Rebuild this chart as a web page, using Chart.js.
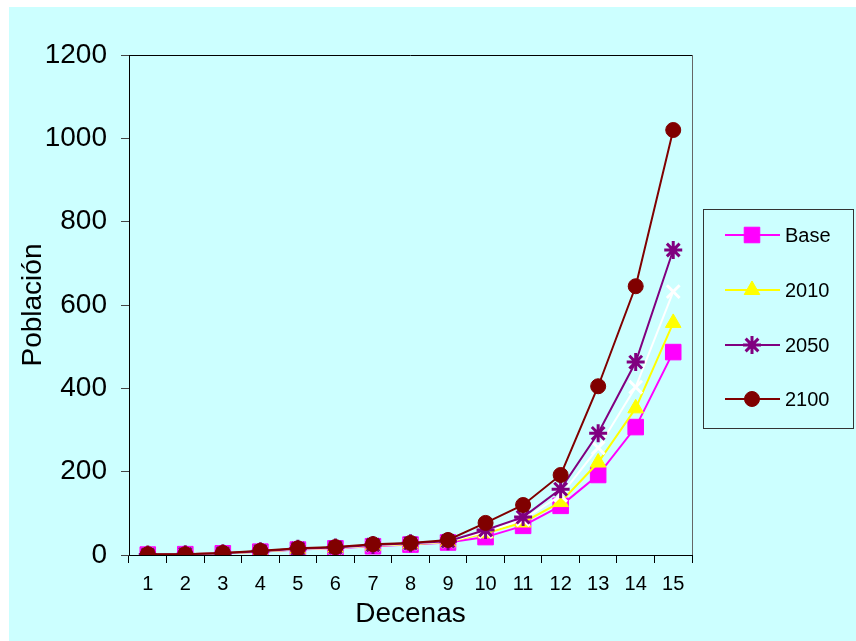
<!DOCTYPE html>
<html>
<head>
<meta charset="utf-8">
<script src="https://cdn.jsdelivr.net/npm/chart.js@4.4.1/dist/chart.umd.min.js"></script>
<style>
  html, body { margin: 0; padding: 0; background: #ffffff; }
  #wrap { width: 856px; height: 641px; position: relative; }
</style>
</head>
<body>
<div id="wrap"><canvas id="c" width="856" height="641"></canvas></div>
<script>
const categories = ['1','2','3','4','5','6','7','8','9','10','11','12','13','14','15'];
const yTicks = [0, 200, 400, 600, 800, 1000, 1200];
const seriesBase = [1, 2, 4, 8, 13, 16, 21, 25, 30, 43, 70, 118, 192, 307, 487];
const series2010 = [1, 2, 4, 8, 14, 17, 22, 26, 31, 52, 78, 127, 222, 352, 557];
const series2030 = [1, 2, 4, 9, 14, 17, 23, 27, 32, 56, 85, 143, 257, 403, 632];
const series2050 = [1, 2, 4, 9, 15, 18, 24, 28, 33, 60, 91, 158, 292, 463, 732];
const series2100 = [2, 2, 5, 10, 16, 19, 26, 29, 36, 77, 120, 192, 405, 645, 1020];

const FONT = "'Liberation Sans', Arial, sans-serif";

const datasets = [
  { label: 'Base', data: seriesBase, borderColor: '#FF00FF', backgroundColor: '#FF00FF',
    pointStyle: 'rect', pointRadius: 11, pointBorderWidth: 1, order: 5, inLegend: true },
  { label: '2010', data: series2010, borderColor: '#FFFF00', backgroundColor: '#FFFF00',
    pointStyle: 'triangle', pointRadius: 9, pointBorderWidth: 1, order: 4, inLegend: true },
  { label: '2030', data: series2030, borderColor: '#FFFFFF', backgroundColor: '#FFFFFF',
    pointStyle: 'crossRot', pointRadius: 9, pointBorderWidth: 3, order: 3, inLegend: false },
  { label: '2050', data: series2050, borderColor: '#800080', backgroundColor: '#800080',
    pointStyle: 'star', pointRadius: 9, pointBorderWidth: 3, order: 2, inLegend: true },
  { label: '2100', data: series2100, borderColor: '#800000', backgroundColor: '#800000',
    pointStyle: 'circle', pointRadius: 7.5, pointBorderWidth: 1, order: 1, inLegend: true }
].map(d => Object.assign({ borderWidth: 2, tension: 0, fill: false,
  pointBackgroundColor: d.backgroundColor, pointBorderColor: d.borderColor }, d));

const bgPlugin = {
  id: 'bg',
  beforeDraw(chart) {
    const ctx = chart.ctx;
    ctx.save();
    ctx.fillStyle = '#FFFFFF';
    ctx.fillRect(0, 0, chart.width, chart.height);
    ctx.fillStyle = '#CCFFFF';
    ctx.fillRect(9, 7, chart.width - 9, chart.height - 7);
    ctx.restore();
  },
  afterDraw(chart) {
    const ctx = chart.ctx;
    const a = chart.chartArea;
    ctx.save();
    ctx.lineWidth = 1;
    ctx.strokeStyle = '#000000';
    ctx.beginPath();
    ctx.moveTo(a.left, Math.round(a.top) + 0.5);
    ctx.lineTo(a.right, Math.round(a.top) + 0.5);
    ctx.stroke();
    ctx.strokeStyle = '#666666';
    ctx.beginPath();
    ctx.moveTo(Math.round(a.right) + 0.5, a.top);
    ctx.lineTo(Math.round(a.right) + 0.5, a.bottom);
    ctx.stroke();

    // legend box
    const bx = 703, by = 209, bw = 150, bh = 219;
    ctx.strokeStyle = '#333333';
    ctx.strokeRect(bx + 0.5, by + 0.5, bw, bh);
    const rowY = [235, 290, 345, 399];
    let row = 0;
    chart.data.datasets.forEach(ds => {
      if (!ds.inLegend) return;
      const y = rowY[row++];
      ctx.strokeStyle = ds.borderColor;
      ctx.lineWidth = 2;
      ctx.beginPath();
      ctx.moveTo(725, y);
      ctx.lineTo(780, y);
      ctx.stroke();
      ctx.fillStyle = ds.backgroundColor;
      ctx.strokeStyle = ds.borderColor;
      ctx.lineWidth = ds.pointBorderWidth;
      Chart.helpers.drawPoint(ctx, { pointStyle: ds.pointStyle, radius: ds.pointRadius, rotation: 0, borderWidth: ds.pointBorderWidth }, 752, y);
      ctx.fillStyle = '#000000';
      ctx.font = '20px ' + FONT;
      ctx.textAlign = 'left';
      ctx.textBaseline = 'middle';
      ctx.fillText(ds.label, 785, y + 1);
    });
    ctx.restore();
  }
};

new Chart(document.getElementById('c'), {
  type: 'line',
  data: { labels: categories, datasets: datasets },
  options: {
    responsive: false,
    animation: false,
    layout: { padding: { top: 55, right: 164, bottom: 0, left: 0 } },
    plugins: { legend: { display: false }, tooltip: { enabled: false } },
    scales: {
      x: {
        type: 'category',
        offset: true,
        grid: { display: true, offset: true, drawOnChartArea: false, drawTicks: true, tickLength: 8, color: '#000000' },
        border: { display: true, color: '#000000', width: 1 },
        ticks: { color: '#000000', font: { family: FONT, size: 20 }, padding: 9, maxRotation: 0, autoSkip: false },
        title: { display: true, text: 'Decenas', color: '#000000', font: { family: FONT, size: 28 }, padding: { top: 0, bottom: 10 } },
        afterFit(scale) { scale.height = 86; }
      },
      y: {
        min: 0, max: 1200,
        afterBuildTicks(scale) { scale.ticks = yTicks.map(v => ({ value: v })); },
        grid: { display: true, drawOnChartArea: false, drawTicks: true, tickLength: 8, color: '#444444' },
        border: { display: true, color: '#000000', width: 1 },
        ticks: { color: '#000000', font: { family: FONT, size: 28 }, padding: 14, callback: v => String(v) },
        title: { display: true, text: 'Población', color: '#000000', font: { family: FONT, size: 28 }, padding: { top: 16, bottom: 0 } },
        afterFit(scale) { scale.width = 129; }
      }
    }
  },
  plugins: [bgPlugin]
});
</script>
</body>
</html>
